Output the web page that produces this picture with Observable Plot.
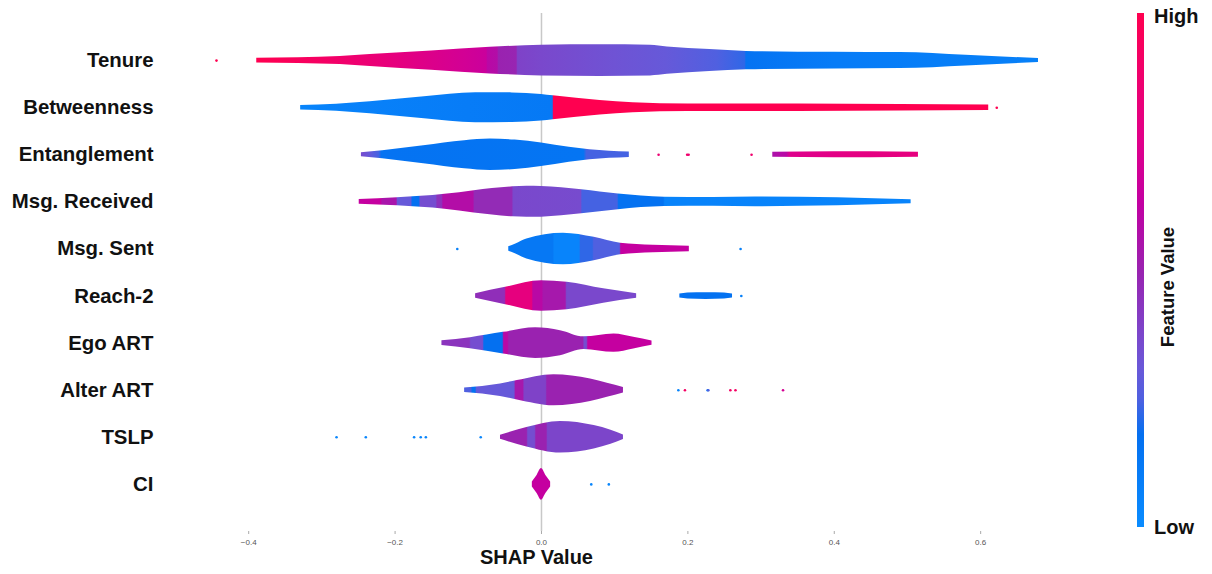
<!DOCTYPE html>
<html><head><meta charset="utf-8">
<script src="https://cdn.jsdelivr.net/npm/d3@7"></script>
<script src="https://cdn.jsdelivr.net/npm/@observablehq/plot@0.6"></script>
<style>
body{margin:0;background:#fff;font-family:"Liberation Sans",Arial,sans-serif;}
</style></head><body><div id="chart"></div>
<script>
const features = ["Tenure","Betweenness","Entanglement","Msg. Received","Msg. Sent","Reach-2","Ego ART","Alter ART","TSLP","CI"];
const xTicks = [-0.4,-0.2,0,0.2,0.4,0.6];

// colour bar samples: [feature value, colour]
const cmapStops = [[0,"#0a8cff"],[0.18,"#0470f0"],[0.25,"#5060e0"],[0.31,"#6a58d8"],[0.37,"#7a48cc"],[0.5,"#9a22b0"],[0.63,"#c200a2"],[0.75,"#e0008a"],[1,"#ff0050"]];

// violin outlines: [SHAP value, density]
const tenureWidth = [[-0.389,2.3],[-0.275,4],[-0.234,6],[-0.15,9.7],[-0.07,13.3],[0,15.3],[0.08,15.8],[0.149,15.3],[0.172,13.7],[0.23,11],[0.28,9.2],[0.4,8.3],[0.49,8],[0.58,5.3],[0.679,2]];
const betweennessWidth = [[-0.329,2.2],[-0.28,3.5],[-0.234,6],[-0.16,11],[-0.09,15],[-0.04,14.8],[0,13.3],[0.016,12],[0.08,7.3],[0.125,5],[0.2,3.7],[0.35,3.7],[0.49,3.3],[0.611,2.7]];
const entanglementWidth = [[-0.246,2],[-0.217,4],[-0.161,9],[-0.105,14],[-0.07,15.7],[-0.036,14.7],[0,11.8],[0.038,7.5],[0.066,5],[0.12,2.7]];
const entanglementTailWidth = [[0.316,2.6],[0.4,2.9],[0.45,3.1],[0.515,2.6]];
const msgReceivedWidth = [[-0.249,2.3],[-0.197,4],[-0.132,7.5],[-0.092,11.2],[-0.039,15],[-0.02,15.5],[0,15.3],[0.055,12],[0.105,7.8],[0.168,4.7],[0.235,4.3],[0.292,4.8],[0.405,4],[0.505,2]];
const msgSentWidth = [[-0.0447,2.3],[-0.035,5],[-0.02,10],[0.03,15.8],[0.072,11.7],[0.108,5.7],[0.153,3.7],[0.202,2.7]];
const reach2Width = [[-0.09,2.3],[-0.049,8.7],[0,15.3],[0.035,13.8],[0.085,7.2],[0.13,2.3]];
const reach2IslandWidth = [[0.189,2],[0.2,3],[0.225,3.4],[0.25,3],[0.261,2]];
const egoArtWidth = [[-0.136,2.3],[-0.097,5.5],[-0.052,10.8],[-0.008,15.3],[0.026,12.5],[0.058,6.3],[0.099,9.2],[0.126,5.8],[0.151,2.2]];
const alterArtWidth = [[-0.105,2.3],[-0.056,6.3],[-0.033,9.7],[0.017,15.5],[0.067,11.2],[0.09,7],[0.112,2.7]];
const tslpWidth = [[-0.056,2],[-0.02,9.7],[0.026,15.8],[0.072,11.7],[0.095,7],[0.112,2.3]];
const ciWidth = [[-0.0125,2.5],[-0.006,9],[0,15.8],[0.006,9],[0.0125,2.5]];

// colour along each violin: [SHAP value, feature value 0 (low) .. 1 (high)]
const tenureColor = [[-0.389,1],[-0.3,0.92],[-0.2,0.8],[-0.1,0.69],[-0.075,0.66],[-0.073,0.6],[-0.06,0.58],[-0.058,0.5],[-0.034,0.49],[-0.032,0.39],[0,0.37],[0.1,0.33],[0.17,0.3],[0.24,0.25],[0.278,0.22],[0.28,0.16],[0.4,0.1],[0.679,0.08]];
const betweennessColor = [[-0.329,0.05],[-0.1,0.1],[0.0155,0.12],[0.0165,1],[0.611,1]];
const entanglementColor = [[-0.246,0.36],[-0.234,0.3],[-0.222,0.24],[-0.218,0.16],[0.058,0.15],[0.062,0.24],[0.12,0.24]];
const entanglementTailColor = [[0.316,0.56],[0.335,0.6],[0.34,0.74],[0.42,0.78],[0.515,0.8]];
const msgReceivedColor = [[-0.249,0.64],[-0.219,0.64],[-0.217,0.55],[-0.198,0.55],[-0.196,0.3],[-0.178,0.3],[-0.176,0.18],[-0.167,0.18],[-0.165,0.35],[-0.144,0.35],[-0.142,0.45],[-0.136,0.45],[-0.134,0.58],[-0.093,0.58],[-0.091,0.47],[-0.04,0.47],[-0.038,0.37],[0.054,0.36],[0.056,0.24],[0.104,0.24],[0.106,0.17],[0.167,0.17],[0.169,0.06],[0.505,0.05]];
const msgSentColor = [[-0.0447,0.13],[0.016,0.13],[0.018,0.05],[0.052,0.05],[0.054,0.22],[0.07,0.22],[0.072,0.25],[0.107,0.25],[0.109,0.64],[0.202,0.64]];
const reach2Color = [[-0.09,0.46],[-0.05,0.46],[-0.048,0.8],[-0.013,0.8],[-0.011,0.6],[0.001,0.6],[0.003,0.54],[0.033,0.54],[0.035,0.37],[0.13,0.37]];
const reach2IslandColor = [[0.189,0.17],[0.261,0.17]];
const egoArtColor = [[-0.136,0.44],[-0.098,0.44],[-0.096,0.35],[-0.08,0.35],[-0.078,0.18],[-0.053,0.18],[-0.051,0.6],[-0.046,0.6],[-0.044,0.5],[0.057,0.5],[0.059,0.35],[0.062,0.35],[0.064,0.64],[0.151,0.64]];
const alterArtColor = [[-0.105,0.25],[-0.096,0.25],[-0.094,0.17],[-0.09,0.17],[-0.088,0.3],[-0.037,0.3],[-0.035,0.54],[-0.025,0.54],[-0.023,0.39],[0.006,0.39],[0.008,0.5],[0.112,0.5]];
const tslpColor = [[-0.056,0.5],[-0.02,0.5],[-0.018,0.35],[-0.009,0.35],[-0.007,0.5],[0.007,0.5],[0.009,0.38],[0.112,0.38]];
const ciColor = [[-0.0125,0.64],[0.0125,0.64]];

// outlier points: [feature index, SHAP value, feature value]
const outliers = [[0,-0.444,1],[1,0.622,1],[2,0.16,0.85],[2,0.199,0.9],[2,0.201,0.85],[2,0.287,0.88],
  [4,-0.115,0.08],[4,0.272,0.08],[5,0.273,0.08],
  [7,0.187,0.05],[7,0.196,0.92],[7,0.227,0.15],[7,0.228,0.25],[7,0.258,0.92],[7,0.265,0.92],[7,0.33,0.7],
  [8,-0.28,0.04],[8,-0.24,0.04],[8,-0.174,0.04],[8,-0.165,0.04],[8,-0.158,0.04],[8,-0.083,0.04],
  [9,0.068,0.04],[9,0.092,0.04]];

const pieces = [
  {f:0, w:tenureWidth, c:tenureColor},
  {f:1, w:betweennessWidth, c:betweennessColor},
  {f:2, w:entanglementWidth, c:entanglementColor},
  {f:2, w:entanglementTailWidth, c:entanglementTailColor},
  {f:3, w:msgReceivedWidth, c:msgReceivedColor},
  {f:4, w:msgSentWidth, c:msgSentColor},
  {f:5, w:reach2Width, c:reach2Color},
  {f:5, w:reach2IslandWidth, c:reach2IslandColor},
  {f:6, w:egoArtWidth, c:egoArtColor},
  {f:7, w:alterArtWidth, c:alterArtColor},
  {f:8, w:tslpWidth, c:tslpColor},
  {f:9, w:ciWidth, c:ciColor}
];

const shapColor = d3.scaleLinear()
  .domain(cmapStops.map(d => d[0]))
  .range(cmapStops.map(d => d[1]))
  .interpolate(d3.interpolateRgb)
  .clamp(true);

const densityToRow = 1 / 47.09;
const font = "'Liberation Sans', Arial, sans-serif";

const chart = Plot.plot({
  width: 1212, height: 574,
  marginLeft: 175, marginRight: 144, marginTop: 13, marginBottom: 43,
  x: {domain: [-0.5, 0.72]},
  y: {domain: [-1, 10], reverse: true},
  color: {type: "identity"},
  style: {fontFamily: font, background: "#fff", overflow: "visible"},
  marks: [
    Plot.ruleX([0], {stroke: "#c8c8c8", strokeWidth: 1.5}),
    ...pieces.map((p, k) => Plot.areaY(p.w, {
      x: d => d[0],
      y1: d => p.f - d[1] * densityToRow,
      y2: d => p.f + d[1] * densityToRow,
      curve: "monotone-x",
      fill: `url(#vg${k})`
    })),
    Plot.dot(outliers, {x: d => d[1], y: d => d[0], r: 1.3, fill: d => shapColor(d[2]), stroke: null}),
    Plot.axisX(xTicks, {tickFormat: d3.format(".1f"), tickSize: 3, tickPadding: 5, fontSize: 8, stroke: "#aaa", fill: "#555", label: null}),
    Plot.axisY(features.map((_, i) => i), {tickFormat: i => features[i], tickSize: 0, tickPadding: 22, fontSize: 20.4, fontWeight: "bold", fill: "#111", label: null}),
    Plot.text(["SHAP Value"], {x: () => 0, frameAnchor: "bottom", dy: 32, dx: -5, fontSize: 20, fontWeight: "bold", fill: "#111"})
  ]
});

document.getElementById("chart").appendChild(chart);

const svg = d3.select(chart);
const defs = svg.insert("defs", ":first-child");
pieces.forEach((p, k) => {
  const x0 = d3.min(p.w, d => d[0]), x1 = d3.max(p.w, d => d[0]);
  const g = defs.append("linearGradient").attr("id", "vg" + k)
    .attr("x1", 0).attr("x2", 1).attr("y1", 0).attr("y2", 0);
  p.c.forEach(([x, t]) => g.append("stop")
    .attr("offset", Math.max(0, Math.min(1, (x - x0) / (x1 - x0))))
    .attr("stop-color", shapColor(t)));
});

// colour bar legend
const cg = defs.append("linearGradient").attr("id", "cbar")
  .attr("x1", 0).attr("x2", 0).attr("y1", 1).attr("y2", 0);
cmapStops.forEach(([t, c]) => cg.append("stop").attr("offset", t).attr("stop-color", c));
const leg = svg.append("g").attr("font-family", font).attr("fill", "#111").attr("text-anchor", "start");
leg.append("rect").attr("x", 1137).attr("y", 13).attr("width", 7).attr("height", 514).attr("fill", "url(#cbar)");
leg.append("text").attr("x", 1154).attr("y", 18).attr("dominant-baseline", "middle").attr("font-size", 20).attr("font-weight", "bold").text("High");
leg.append("text").attr("x", 1154).attr("y", 529).attr("dominant-baseline", "middle").attr("font-size", 20).attr("font-weight", "bold").text("Low");
leg.append("text").attr("transform", "translate(1169,287) rotate(-90)").attr("text-anchor", "middle").attr("dominant-baseline", "middle").attr("font-size", 18.5).attr("font-weight", "bold").text("Feature Value");
</script>
</body></html>
